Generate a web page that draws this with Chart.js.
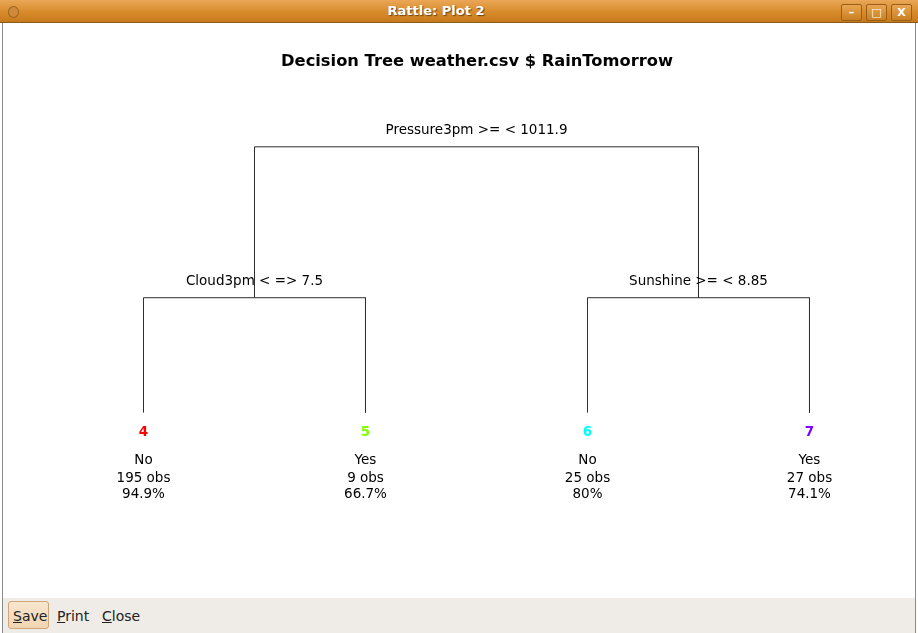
<!DOCTYPE html>
<html>
<head>
<meta charset="utf-8">
<script src="https://cdn.jsdelivr.net/npm/chart.js@4/dist/chart.umd.min.js"></script>
<style>
  body { margin: 0; background: #fff; font-family: "DejaVu Sans", sans-serif; }
  #win { position: relative; width: 918px; height: 633px; overflow: hidden; background: #fff; }
  #titlebar {
    position: absolute; left: 0; top: 0; width: 918px; height: 23px;
    background: linear-gradient(#eaa757, #d88b2b 55%, #c67a1c);
    border-bottom: 1px solid #8a5a1a; box-sizing: border-box;
  }
  #titlebar .caption {
    position: absolute; left: 0; width: 872px; top: 3px; text-align: center;
    color: #fff; font-weight: bold; font-size: 13px; text-shadow: 1px 1px 1px #6b4210;
  }
  #titlebar .dot {
    position: absolute; left: 8px; top: 6px; width: 9px; height: 10px; border-radius: 50%;
    background: #d18a3a; border: 1px solid #9a6420;
  }
  .btn {
    position: absolute; top: 4px; width: 21px; height: 17px; box-sizing: border-box;
    border: 1px solid #9a5e18; border-radius: 2px;
    background: linear-gradient(#e9a553, #c98021);
    color: #fff; font-size: 11px; font-weight: bold; text-align: center; line-height: 15px;
  }
  #frameL { position: absolute; left: 2px; top: 23px; width: 1px; height: 610px; background: #8a8a8a; }
  #frameR { position: absolute; left: 915px; top: 23px; width: 1px; height: 610px; background: #8a8a8a; }
  #plot { position: absolute; left: 3px; top: 23px; }
  #bottombar {
    position: absolute; left: 3px; top: 598px; width: 912px; height: 35px; background: #efebe7;
    font-size: 14px; color: #222;
  }
  #bottombar span { position: absolute; top: 10px; }
  #save {
    position: absolute; left: 5px; top: 3px; width: 41px; height: 28px; box-sizing: border-box;
    border: 1px solid #d0a577; border-radius: 3px; background: linear-gradient(#f8e6cf, #f0d5b2);
  }
</style>
</head>
<body>
<div id="win">
  <div id="titlebar">
    <div class="dot"></div>
    <div class="caption">Rattle: Plot 2</div>
    <div class="btn" style="left:841px">&#8211;</div>
    <div class="btn" style="left:866px">&#9633;</div>
    <div class="btn" style="left:891px">X</div>
  </div>
  <div id="frameL"></div>
  <div id="frameR"></div>
  <canvas id="plot" width="912" height="575"></canvas>
  <div id="bottombar">
    <div id="save"></div>
    <span style="left:10px"><u>S</u>ave</span>
    <span style="left:54px"><u>P</u>rint</span>
    <span style="left:99px"><u>C</u>lose</span>
  </div>
</div>
<script>
// tree nodes (rpart numbering), layout x and height
const nodeIds = [1, 2, 3, 4, 5, 6, 7];
const nodeX = [2.5, 1.5, 3.5, 1, 2, 3, 4];
const nodeY = [1, 0.4323, 0.4323, 0, 0, 0, 0];

const splitNodes = [1, 2, 3];
const splitLabels = ['Pressure3pm >= < 1011.9', 'Cloud3pm < => 7.5', 'Sunshine >= < 8.85'];

const leafNodes = [4, 5, 6, 7];
const leafClass = ['No', 'Yes', 'No', 'Yes'];
const leafObs = [195, 9, 25, 27];
const leafPct = ['94.9%', '66.7%', '80%', '74.1%'];

const leafColors = ['#ff0000', '#80ff00', '#00ffff', '#8000ff'];
const lineColor = '#2e2e2e';

Chart.defaults.font.family = '"DejaVu Sans", sans-serif';

function node(id)
{
    const i = nodeIds.indexOf(id);
    return { x: nodeX[i], y: nodeY[i] };
}

// one polyline per split: left child up, across, right child down
const segments = splitNodes.map((id) => {
    const p = node(id);
    const l = node(id * 2);
    const r = node(id * 2 + 1);
    return {
        data: [
            { x: l.x, y: l.y },
            { x: l.x, y: p.y },
            { x: r.x, y: p.y },
            { x: r.x, y: r.y },
        ],
        showLine: true,
        borderColor: lineColor,
        borderWidth: 1,
        pointRadius: 0,
        fill: false,
    };
});

const treeText = {
    id: 'treeText',
    afterDatasetsDraw(chart)
    {
        const ctx = chart.ctx;
        const xs = chart.scales.x;
        const ys = chart.scales.y;
        const font = '13.5px "DejaVu Sans"';
        ctx.save();
        ctx.textAlign = 'center';
        ctx.textBaseline = 'middle';
        ctx.fillStyle = '#000';
        ctx.font = font;
        splitNodes.forEach((id, i) => {
            const n = node(id);
            ctx.fillText(splitLabels[i], xs.getPixelForValue(n.x), ys.getPixelForValue(n.y) - 16);
        });
        leafNodes.forEach((id, i) => {
            const n = node(id);
            const px = xs.getPixelForValue(n.x);
            const py = ys.getPixelForValue(n.y);
            ctx.font = 'bold ' + font;
            ctx.fillStyle = leafColors[i];
            ctx.fillText(String(id), px, py + 20);
            ctx.font = font;
            ctx.fillStyle = '#000';
            ctx.fillText(leafClass[i], px, py + 47.5);
            ctx.fillText(leafObs[i] + ' obs', px, py + 66);
            ctx.fillText(leafPct[i], px, py + 82);
        });
        ctx.restore();
    },
};

new Chart(document.getElementById('plot'), {
    type: 'scatter',
    data: { datasets: segments },
    options: {
        responsive: false,
        animation: false,
        layout: { padding: { left: 36 } },
        scales: {
            x: { type: 'linear', min: 0.52928, max: 4.47523, display: false },
            y: { type: 'linear', min: -0.69737, max: 1.25, display: false },
        },
        plugins: {
            legend: { display: false },
            tooltip: { enabled: false },
            title: {
                display: true,
                fullSize: false,
                text: 'Decision Tree weather.csv $ RainTomorrow',
                color: '#000',
                font: { size: 16.3, weight: 'bold', lineHeight: 1.25 },
                padding: { top: 29, bottom: 8 },
            },
        },
    },
    plugins: [treeText],
});
</script>
</body>
</html>
